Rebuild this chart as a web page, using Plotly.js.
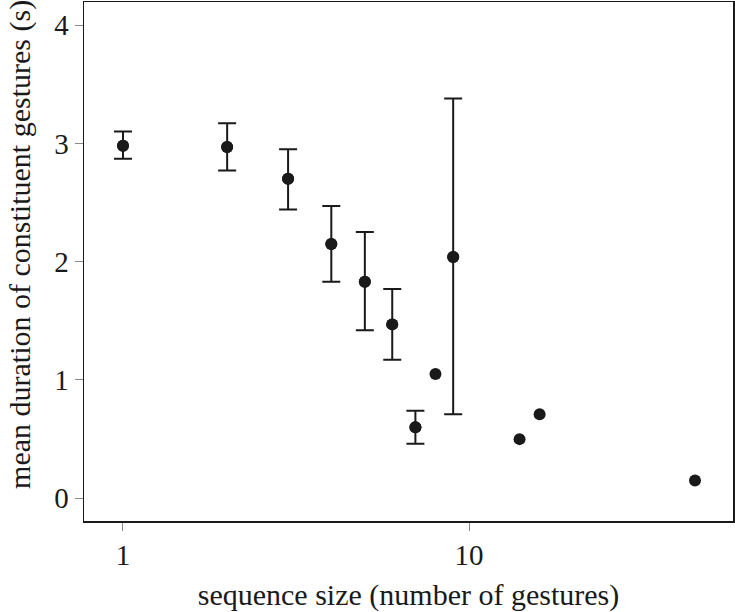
<!DOCTYPE html>
<html>
<head>
<meta charset="utf-8">
<script src="https://cdn.plot.ly/plotly-3.0.1.min.js"></script>
<style>
  html, body { margin: 0; padding: 0; background: #fff; }
  #chart { width: 735px; height: 612px; }
</style>
</head>
<body>
<div id="chart"></div>
<script>
// sequence size (number of gestures)
const sequenceSize = [1, 2, 3, 4, 5, 6, 7, 8, 9, 14, 16, 45];
// mean duration of constituent gestures (s)
const meanDuration = [2.98, 2.97, 2.70, 2.15, 1.83, 1.47, 0.60, 1.05, 2.04, 0.50, 0.71, 0.15];
// error bar ends (null = no bar)
const upperBound = [3.10, 3.17, 2.95, 2.47, 2.25, 1.77, 0.74, null, 3.38, null, null, null];
const lowerBound = [2.87, 2.77, 2.44, 1.83, 1.42, 1.17, 0.46, null, 0.71, null, null, null];

const ink = "#1a1a1a";

// only the sizes that have an interval get an error bar
const withErr = sequenceSize.map((s, i) => i).filter(i => upperBound[i] != null);

const points = {
  x: sequenceSize,
  y: meanDuration,
  type: "scatter",
  mode: "markers",
  marker: { color: ink, size: 12 },
  hoverinfo: "x+y"
};

const bars = {
  x: withErr.map(i => sequenceSize[i]),
  y: withErr.map(i => meanDuration[i]),
  type: "scatter",
  mode: "markers",
  marker: { color: ink, size: 12 },
  error_y: {
    type: "data",
    symmetric: false,
    array: withErr.map(i => upperBound[i] - meanDuration[i]),
    arrayminus: withErr.map(i => meanDuration[i] - lowerBound[i]),
    color: ink,
    thickness: 2,
    width: 9
  },
  hoverinfo: "skip"
};

const serif = "Liberation Serif";

const layout = {
  width: 735,
  height: 612,
  showlegend: false,
  font: { family: serif, color: ink },
  paper_bgcolor: "#fff",
  plot_bgcolor: "#fff",
  margin: { l: 84, r: 2, t: 2, b: 91, pad: 0 },
  xaxis: {
    type: "log",
    range: [-0.1127, 1.763],
    tickvals: [1, 10],
    ticktext: ["1", "10"],
    ticks: "outside",
    ticklen: 8,
    tickwidth: 1,
    tickcolor: "#888",
    tickfont: { size: 29, family: serif, color: ink },
    showgrid: false,
    zeroline: false,
    showline: true,
    mirror: true,
    linecolor: ink,
    linewidth: 1.5,
    title: {
      text: "sequence size (number of gestures)",
      font: { size: 30, family: serif, color: ink },
      standoff: 18
    }
  },
  yaxis: {
    range: [-0.192, 4.195],
    tickvals: [0, 1, 2, 3, 4],
    ticks: "outside",
    ticklen: 8,
    tickwidth: 1,
    tickcolor: "#888",
    tickfont: { size: 29, family: serif, color: ink },
    showgrid: false,
    zeroline: false,
    showline: true,
    mirror: true,
    linecolor: ink,
    linewidth: 1.5
  },
  annotations: [
    {
      text: "mean duration of constituent gestures (s)",
      xref: "paper",
      yref: "paper",
      x: -0.0986,
      y: 0.532,
      xanchor: "center",
      yanchor: "middle",
      textangle: -90,
      showarrow: false,
      font: { size: 30, family: serif, color: ink }
    }
  ]
};

const config = { displayModeBar: false, staticPlot: true };

Plotly.newPlot("chart", [points, bars], layout, config);
</script>
</body>
</html>
